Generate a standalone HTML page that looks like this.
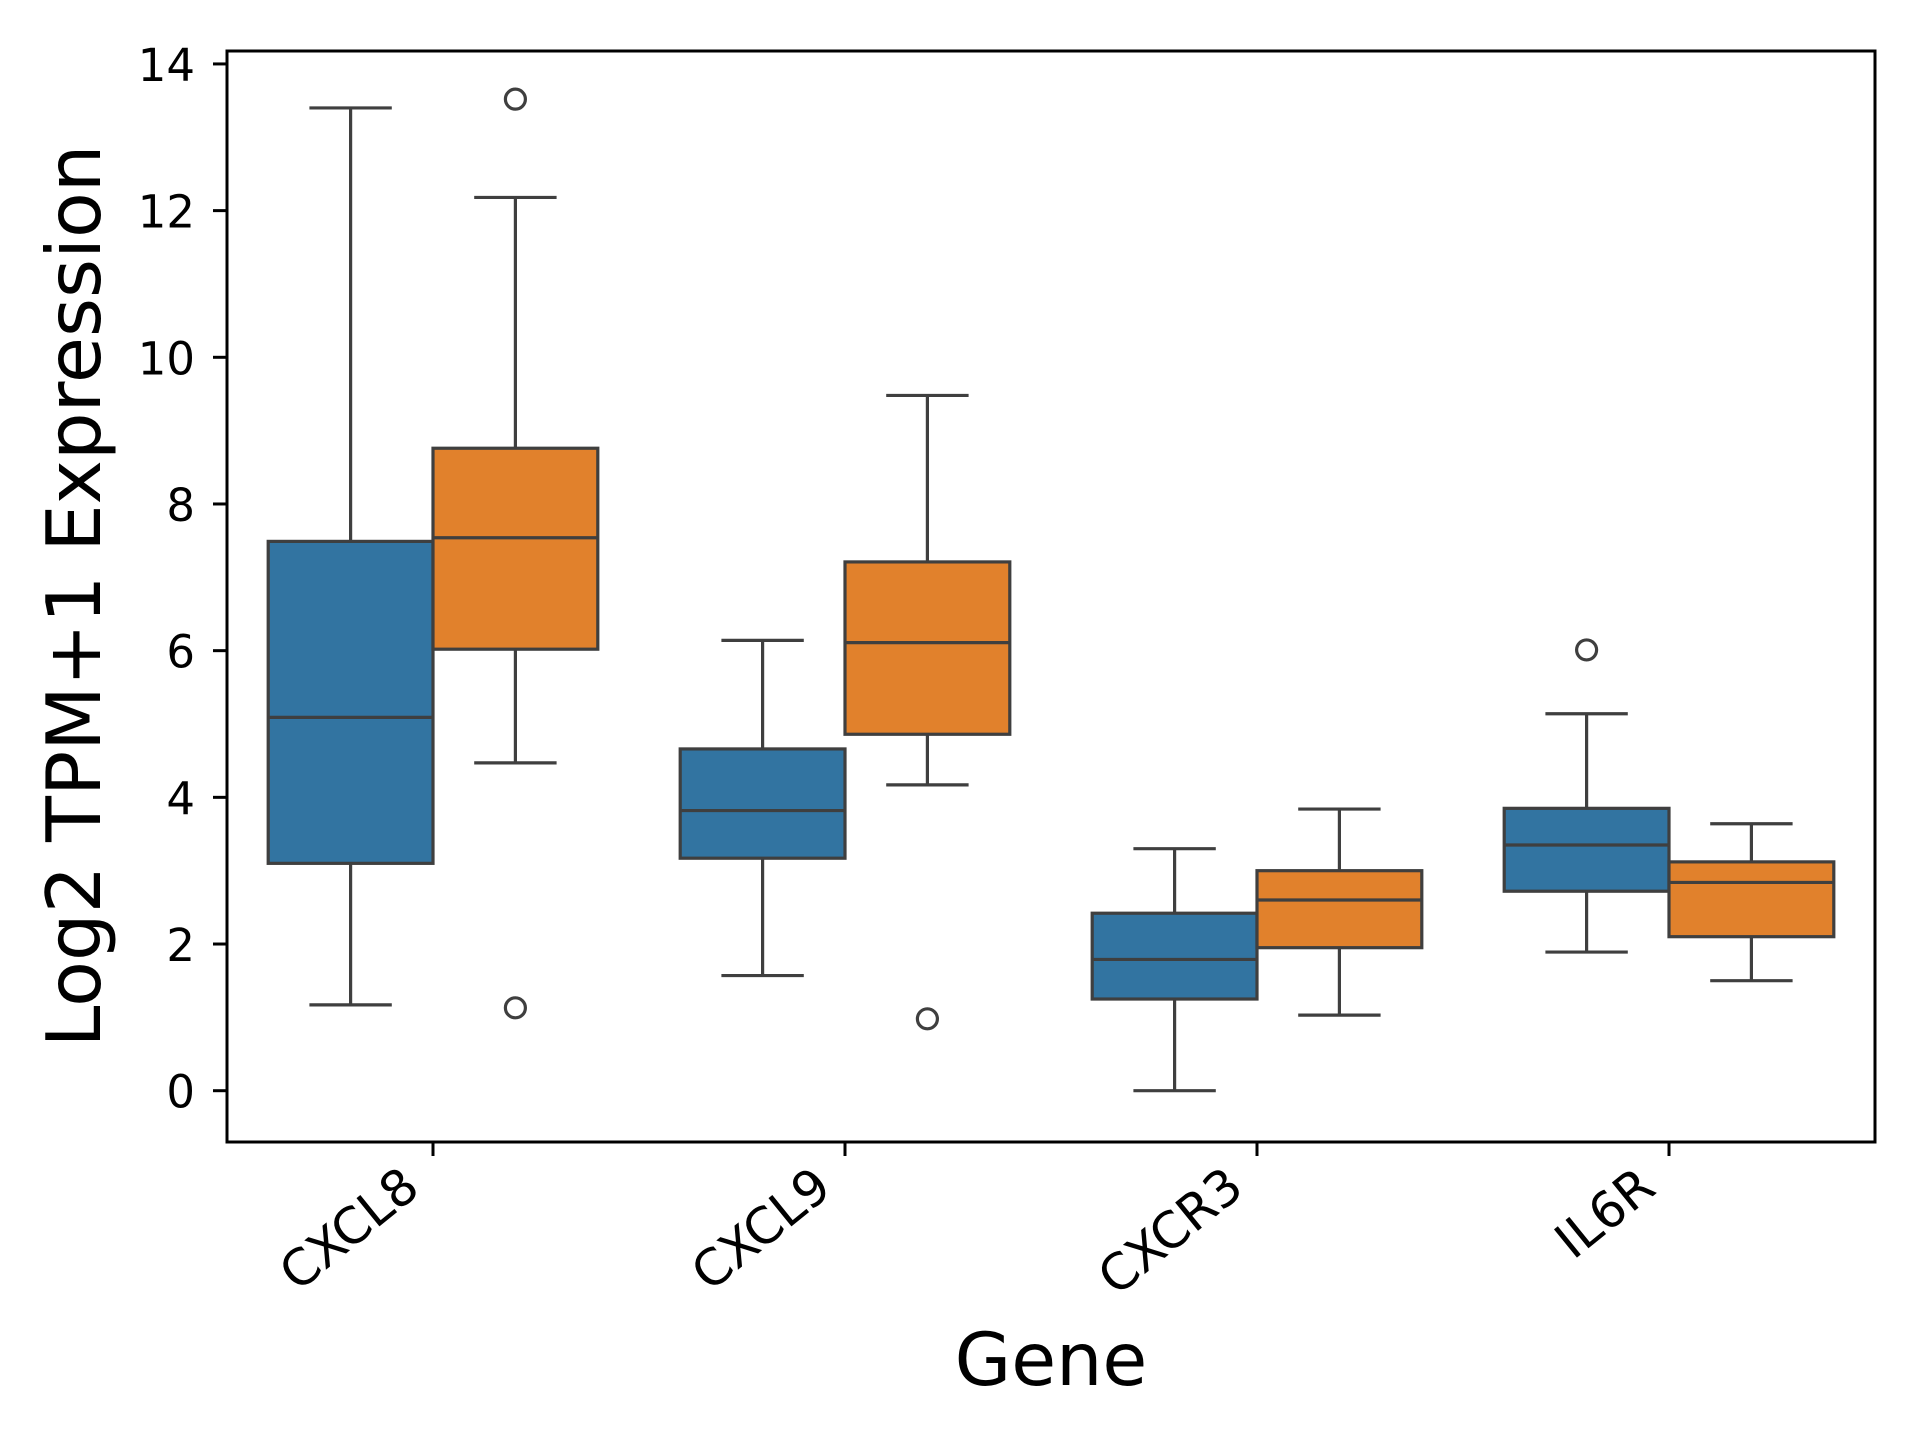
<!DOCTYPE html>
<html><head><meta charset="utf-8"><style>
html,body{margin:0;padding:0;background:#fff;}
svg{display:block;font-family:"DejaVu Sans","Liberation Sans",sans-serif;}
</style></head><body>
<svg id="chart" width="1920" height="1440" viewBox="0 0 1920 1440" xmlns="http://www.w3.org/2000/svg">
<rect width="1920" height="1440" fill="#fff"/>
<g id="plot"></g>
<text x="0" y="0" transform="translate(100,596) rotate(-90)" text-anchor="middle" font-size="75" fill="#000">Log2 TPM+1 Expression</text>
<text x="1051" y="1385" text-anchor="middle" font-size="73" fill="#000">Gene</text>
</svg>
<script>
const categories = ["CXCL8","CXCL9","CXCR3","IL6R"];
const seriesColors = ["#3274a1","#e1812c"];
// [whiskerLow, q1, median, q3, whiskerHigh] per category
const seriesA_low = [1.17,1.57,0.00,1.89];
const seriesA_q1 = [3.10,3.17,1.25,2.72];
const seriesA_med = [5.09,3.82,1.79,3.35];
const seriesA_q3 = [7.49,4.66,2.42,3.85];
const seriesA_high = [13.40,6.14,3.30,5.14];
const seriesA_outliers = [[],[],[],[6.01]];
const seriesB_low = [4.47,4.17,1.03,1.50];
const seriesB_q1 = [6.02,4.86,1.95,2.10];
const seriesB_med = [7.54,6.11,2.60,2.84];
const seriesB_q3 = [8.76,7.21,3.00,3.12];
const seriesB_high = [12.18,9.48,3.84,3.64];
const seriesB_outliers = [[13.52,1.13],[0.98],[],[]];
const yTicks = [0,2,4,6,8,10,12,14];

const L=227,R=1875,T=51,B=1142;
const yv = v => 1090.7 - v*73.34;
const band = (R-L)/categories.length;
const xc = i => L + band*(i+0.5);
const NS="http://www.w3.org/2000/svg";
const g=document.getElementById('plot');
function mk(tag,attrs){const e=document.createElementNS(NS,tag);for(const k in attrs)e.setAttribute(k,attrs[k]);g.appendChild(e);return e;}
const LC="#3f3f3f", LW=3.2;
const bw = band*0.4;
const series=[
 {low:seriesA_low,q1:seriesA_q1,med:seriesA_med,q3:seriesA_q3,high:seriesA_high,out:seriesA_outliers},
 {low:seriesB_low,q1:seriesB_q1,med:seriesB_med,q3:seriesB_q3,high:seriesB_high,out:seriesB_outliers}];
series.forEach((s,si)=>{
 categories.forEach((c,i)=>{
  const cx = xc(i) + (si===0?-1:1)*bw/2;
  let e;
  e=mk('line',{x1:cx,x2:cx,y1:yv(s.high[i]),y2:yv(s.q3[i]),stroke:LC,'stroke-width':LW});
  
  
  e=mk('line',{x1:cx,x2:cx,y1:yv(s.q1[i]),y2:yv(s.low[i]),stroke:LC,'stroke-width':LW});
  
  
  e=mk('line',{x1:cx-bw/4,x2:cx+bw/4,y1:yv(s.high[i]),y2:yv(s.high[i]),stroke:LC,'stroke-width':LW});
  
  
  e=mk('line',{x1:cx-bw/4,x2:cx+bw/4,y1:yv(s.low[i]),y2:yv(s.low[i]),stroke:LC,'stroke-width':LW});
  
  
  e=mk('rect',{x:cx-bw/2,y:yv(s.q3[i]),width:bw,height:yv(s.q1[i])-yv(s.q3[i]),fill:seriesColors[si],stroke:LC,'stroke-width':LW});
  
  
  e=mk('line',{x1:cx-bw/2,x2:cx+bw/2,y1:yv(s.med[i]),y2:yv(s.med[i]),stroke:LC,'stroke-width':LW});
  
  
  s.out[i].forEach(v=>{
   const o=mk('circle',{cx:cx,cy:yv(v),r:10,fill:'none',stroke:LC,'stroke-width':3.2});
   
   
  });
 });
});
let fr=mk('rect',{x:L,y:T,width:R-L,height:B-T,fill:'none',stroke:'#000',"stroke-width":3});


yTicks.forEach(t=>{
 let e=mk('line',{x1:L-14,x2:L,y1:yv(t),y2:yv(t),stroke:'#000','stroke-width':3});
 
 
 e=mk('text',{x:L-32,y:yv(t)+17,'text-anchor':'end','font-size':45,fill:'#000'});
 e.textContent=t;
 
 
});
categories.forEach((c,i)=>{
 const x=xc(i);
 let e=mk('line',{x1:x,x2:x,y1:B,y2:B+14,stroke:'#000','stroke-width':3});
 
 
 e=mk('text',{x:0,y:0,'text-anchor':'end','font-size':50,fill:'#000',transform:`translate(${x-11},${B+50}) rotate(-39)`});
 e.textContent=c;
 
 
});
</script>
</body></html>
